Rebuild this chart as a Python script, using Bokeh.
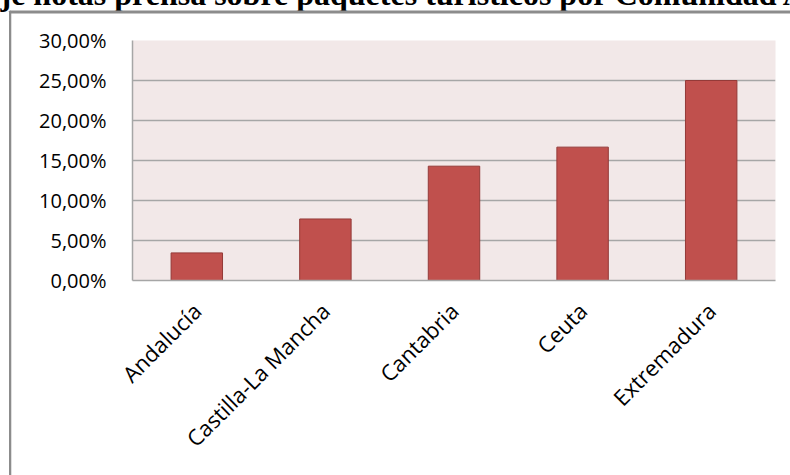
from math import pi
from bokeh.plotting import figure
from bokeh.models import ColumnDataSource, FixedTicker, Label
from bokeh.embed import file_html
from bokeh.resources import INLINE

title_text = "je notas prensa sobre paquetes turísticos por Comunidad A"
categories = ["Andalucía", "Castilla-La Mancha", "Cantabria", "Ceuta", "Extremadura"]
values = [3.45, 7.69, 14.29, 16.67, 25.00]
y_ticks = [0, 5, 10, 15, 20, 25, 30]
y_tick_labels = ["0,00%", "5,00%", "10,00%", "15,00%", "20,00%", "25,00%", "30,00%"]

source = ColumnDataSource(data=dict(cat=categories, val=values))

p = figure(x_range=categories, y_range=(0, 30),
           width=790, height=475,
           frame_width=643, frame_height=240,
           min_border_left=132, min_border_right=15,
           min_border_top=40, min_border_bottom=195,
           output_backend="svg", toolbar_location=None)

p.background_fill_color = "#F2E8E8"
p.border_fill_color = "white"
p.outline_line_color = None

p.vbar(x="cat", top="val", width=0.4, source=source,
       fill_color="#C0504D", line_color="#943A38", line_width=1)

# grid
p.xgrid.grid_line_color = None
p.ygrid.grid_line_color = "#A6A6A6"
p.ygrid.grid_line_width = 1.5
p.ygrid.ticker = FixedTicker(ticks=y_ticks)

# y axis
p.yaxis.ticker = FixedTicker(ticks=y_ticks)
p.yaxis.major_label_overrides = {t: l for t, l in zip(y_ticks, y_tick_labels)}
p.yaxis.axis_line_color = "#A6A6A6"
p.yaxis.axis_line_width = 1.5
p.yaxis.major_tick_line_color = None
p.yaxis.minor_tick_line_color = None
p.yaxis.major_label_standoff = 20
p.yaxis.major_label_text_font = "Open Sans"
p.yaxis.major_label_text_font_size = "20px"
p.yaxis.major_label_text_color = "black"

# x axis
p.xaxis.axis_line_color = "#A6A6A6"
p.xaxis.axis_line_width = 1.5
p.xaxis.major_tick_line_color = None
p.xaxis.minor_tick_line_color = None
p.xaxis.major_label_orientation = pi / 4
p.xaxis.major_label_standoff = 20
p.xaxis.major_label_text_font = "Open Sans"
p.xaxis.major_label_text_font_size = "22px"
p.xaxis.major_label_text_color = "black"

# title (cropped at top in the reference)
p.add_layout(Label(x=0, y=-7, x_units="canvas", y_units="canvas",
                   text=title_text, text_font="Liberation Serif",
                   text_font_style="bold", text_font_size="32px",
                   text_color="black", text_baseline="alphabetic"), "above")

# chart area border: top edge and left edge (run past the picture's edges)
p.add_layout(Label(x=9.5, y=11, x_units="canvas", y_units="canvas",
                   text=" ", text_font_size="1px", anchor="top_left",
                   padding=(0, 1000, 0, 0),
                   border_line_color="#8C8C8C", border_line_width=2,
                   background_fill_color=None), "above")
p.add_layout(Label(x=9.5, y=11, x_units="canvas", y_units="canvas",
                   text=" ", text_font_size="1px", anchor="top_left",
                   padding=(0, 0, 1000, 0),
                   border_line_color="#8C8C8C", border_line_width=2,
                   background_fill_color=None), "left")

open("out.html", "w").write(file_html(p, INLINE))
